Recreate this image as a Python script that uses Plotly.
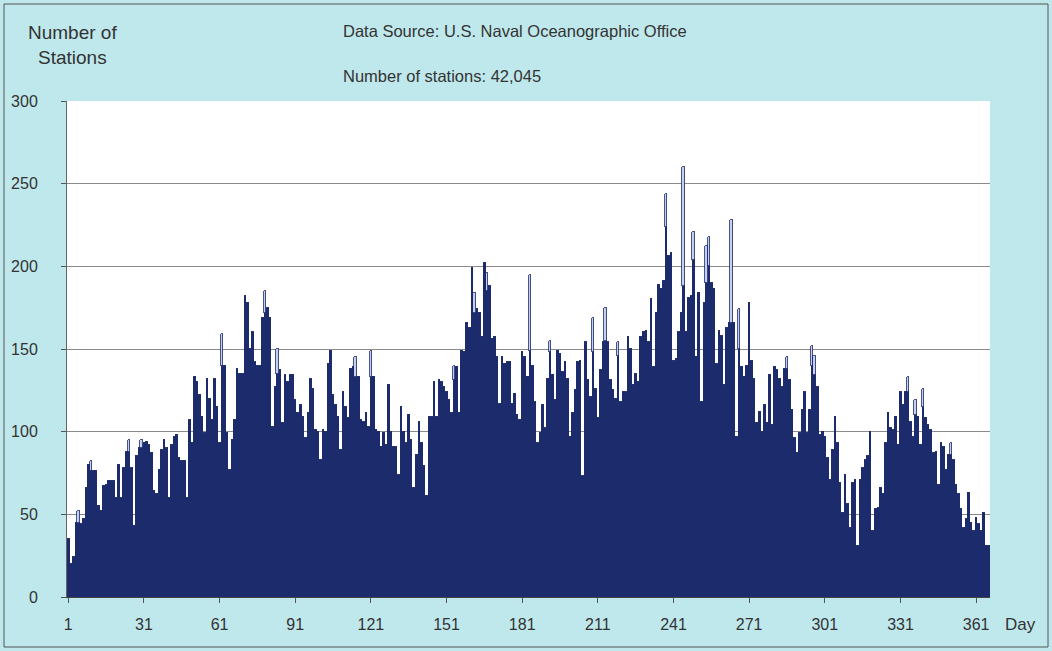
import plotly.graph_objects as go

# ---- data ----
station_counts = [
    # days 1-43
    35, 20, 24, 45, 52, 44, 47, 66, 80, 82, 76, 76, 55, 52, 67, 68, 70, 70, 70, 60,
    80, 60, 78, 88, 95, 78, 43, 85, 90, 95, 93, 94, 92, 87, 64, 62, 77, 89, 95, 90,
    60, 92, 97,
    # days 44-89
    98, 84, 82, 82, 60, 107, 93, 133, 130, 122, 109, 99, 132, 120, 107, 132, 115, 93, 159, 140,
    99, 77, 95, 107, 138, 135, 135, 182, 178, 150, 160, 142, 140, 140, 169, 185, 175, 169, 103, 127,
    150, 137, 105, 134, 130, 134,
    # days 90-135
    134, 119, 111, 116, 109, 96, 111, 132, 126, 101, 100, 83, 101, 100, 141, 149, 122, 116, 109, 89,
    124, 115, 108, 138, 139, 145, 133, 107, 106, 111, 103, 149, 133, 101, 100, 91, 99, 92, 128, 100,
    91, 91, 74, 115, 100, 93,
    # days 136-180
    110, 95, 66, 86, 106, 93, 79, 61, 109, 109, 130, 109, 131, 130, 127, 124, 119, 111, 140, 139,
    111, 149, 148, 166, 163, 199, 184, 174, 172, 157, 202, 196, 188, 156, 157, 145, 117, 145, 141, 142,
    142, 117, 123, 110, 107,
    # days 181-226
    148, 145, 133, 195, 140, 118, 93, 99, 116, 102, 132, 155, 134, 119, 149, 147, 136, 142, 132, 97,
    111, 125, 142, 143, 73, 154, 131, 121, 169, 126, 108, 137, 154, 175, 154, 131, 125, 120, 154, 118,
    124, 124, 157, 150, 128, 135,
    # days 227-271
    130, 157, 160, 161, 154, 180, 139, 172, 189, 186, 191, 244, 206, 208, 143, 144, 160, 172, 260, 160,
    181, 182, 221, 145, 184, 118, 178, 212, 218, 190, 186, 141, 161, 158, 128, 163, 166, 228, 166, 97,
    174, 139, 133, 140, 178,
    # days 272-317
    143, 132, 105, 112, 100, 116, 105, 134, 104, 139, 137, 132, 127, 138, 145, 131, 113, 96, 87, 99,
    113, 124, 99, 113, 152, 146, 127, 98, 100, 97, 84, 71, 89, 109, 93, 69, 51, 74, 56, 42,
    69, 71, 31, 71, 78, 83,
    # days 318-366
    85, 100, 40, 53, 54, 66, 62, 93, 111, 102, 101, 109, 92, 124, 116, 124, 133, 106, 97, 119,
    109, 92, 126, 108, 104, 101, 87, 88, 68, 93, 91, 77, 86, 93, 83, 68, 62, 53, 42, 47,
    63, 45, 40, 48, 44, 40, 51, 31, 31,
]
days = list(range(1, len(station_counts) + 1))

# bars whose upper part is drawn hollow (light fill, dark outline): day and height of the dark part
outlined_days = [5, 10, 25, 30, 62, 79, 84, 115, 121, 154, 162, 167, 184, 192, 209, 214, 219,
                 238, 245, 249, 254, 255, 264, 267, 286, 296, 297, 334, 337, 340, 351]
outlined_dark = [45, 76, 88, 90, 140, 172, 135, 133, 133, 131, 172, 185, 149, 148, 148, 155, 146,
                 224, 188, 204, 190, 200, 166, 150, 138, 140, 134, 124, 110, 115, 86]

x_tick_days = [1, 31, 61, 91, 121, 151, 181, 211, 241, 271, 301, 331, 361]
x_tick_labels = [str(d) for d in x_tick_days]
y_ticks = [0, 50, 100, 150, 200, 250, 300]

# ---- derived series ----
dark_part = list(station_counts)
for d, v in zip(outlined_days, outlined_dark):
    dark_part[d - 1] = v
light_part = [c - d for c, d in zip(station_counts, dark_part)]

W, H = 1052, 651
L, R, T, B = 67, 990, 101, 597


def px(x):
    return (x - L) / (R - L)


def py(y):
    return (B - y) / (B - T)


NAVY = "#1c2b6c"
TXT = "#333333"
FONT = "Liberation Sans, Arial, sans-serif"

fig = go.Figure()
fig.add_trace(go.Bar(x=days, y=dark_part, marker=dict(color=NAVY, line=dict(width=0)),
                     showlegend=False, hoverinfo="x+y"))
fig.add_trace(go.Bar(x=days, y=light_part,
                     marker=dict(color="#c6d0ec", line=dict(color=NAVY, width=0.8)),
                     showlegend=False, hoverinfo="x+y"))

fig.update_layout(
    width=W, height=H,
    margin=dict(l=L, r=W - R, t=T, b=H - B, autoexpand=False),
    paper_bgcolor="#bfe8ec",
    plot_bgcolor="#ffffff",
    barmode="stack",
    bargap=0,
    font=dict(family=FONT, color=TXT, size=16),
)
fig.update_xaxes(
    range=[0.5, len(days) + 0.5],
    tickmode="array", tickvals=x_tick_days, ticktext=x_tick_labels,
    ticks="outside", ticklen=5, tickcolor="#555555",
    ticklabelstandoff=8,
    showgrid=False, showline=True, linecolor="#444444", linewidth=1,
    tickfont=dict(size=16, color=TXT), zeroline=False,
)
fig.update_yaxes(
    range=[0, 300],
    tickmode="array", tickvals=y_ticks,
    ticks="outside", ticklen=5, tickcolor="#555555",
    ticklabelstandoff=20,
    showgrid=True, gridcolor="#8a8a8a", gridwidth=1,
    showline=True, linecolor="#666666", linewidth=1,
    tickfont=dict(size=16, color=TXT), zeroline=False,
)

fig.add_annotation(text="Number of<br>Stations", x=px(72), y=py(45), xref="paper", yref="paper",
                   xanchor="center", yanchor="middle",
                   showarrow=False, font=dict(size=19, color=TXT), align="center")
fig.add_annotation(text="Data Source: U.S. Naval Oceanographic Office", x=px(341), y=py(31),
                   xref="paper", yref="paper", xanchor="left", yanchor="middle", showarrow=False,
                   font=dict(size=16.5, color=TXT))
fig.add_annotation(text="Number of stations: 42,045", x=px(341), y=py(76),
                   xref="paper", yref="paper", xanchor="left", yanchor="middle", showarrow=False,
                   font=dict(size=16.5, color=TXT))
fig.add_annotation(text="Day", x=px(1003), y=py(624), xref="paper", yref="paper",
                   xanchor="left", yanchor="middle", showarrow=False, font=dict(size=17, color=TXT))

# outer frame
fig.add_shape(type="rect", xref="paper", yref="paper",
              x0=px(4), x1=px(1048), y0=py(647), y1=py(4),
              line=dict(color="#555555", width=1))

fig.write_html("out.html", config={"displayModeBar": False},
               post_script="document.body.style.margin='0';")
